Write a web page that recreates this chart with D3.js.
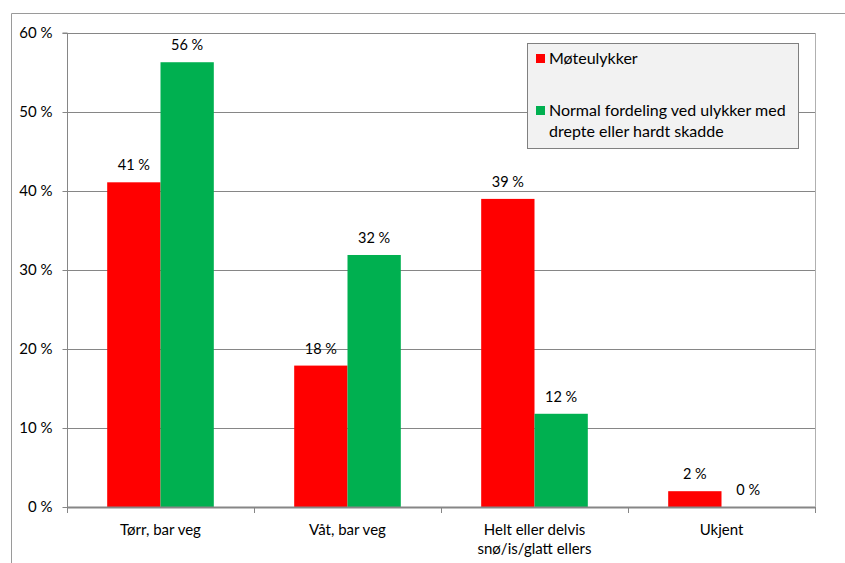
<!DOCTYPE html>
<html>
<head>
<meta charset="utf-8">
<script src="https://cdn.jsdelivr.net/npm/d3@7"></script>
<style>
  html, body { margin: 0; padding: 0; background: #fff; }
  svg { display: block; font-family: Lato, "Open Sans", sans-serif; }
</style>
</head>
<body>
<svg id="chart" width="845" height="563"></svg>
<script>
// Road surface conditions for head-on collisions vs. all serious accidents
const categories = ["Tørr, bar veg", "Våt, bar veg", "Helt eller delvis\nsnø/is/glatt ellers", "Ukjent"];
const seriesNames = ["Møteulykker", "Normal fordeling ved ulykker med\ndrepte eller hardt skadde"];
const moteulykker = [41.1, 17.9, 39.0, 2.0];
const normalFordeling = [56.3, 31.9, 11.8, 0.0];
const yTicks = [0, 10, 20, 30, 40, 50, 60];
const colors = ["#ff0000", "#00b050"];

const svg = d3.select("#chart");
const W = 845, H = 563;
const plot = { left: 67, top: 33, right: 815, bottom: 507 };

// outer chart frame (left and top edges visible)
svg.append("path")
  .attr("d", `M11.5,${H} V13.5 H${W}`)
  .attr("fill", "none").attr("stroke", "#9a9a9a").attr("stroke-width", 1);

const x = d3.scaleBand().domain(categories).range([plot.left, plot.right]).paddingInner(0).paddingOuter(0);
const y = d3.scaleLinear().domain([0, 60]).range([plot.bottom, plot.top]);
const inner = d3.scaleBand().domain([0, 1]).range([0, x.bandwidth()]).paddingInner(0).paddingOuter(0.754);

// gridlines
svg.append("g").selectAll("line").data(yTicks.filter(d => d > 0)).join("line")
  .attr("x1", plot.left).attr("x2", plot.right)
  .attr("y1", d => Math.round(y(d)) + 0.5).attr("y2", d => Math.round(y(d)) + 0.5)
  .attr("stroke", "#868686").attr("stroke-width", 1);

// right border of the plot area
svg.append("line")
  .attr("x1", plot.right + 0.5).attr("x2", plot.right + 0.5)
  .attr("y1", plot.top).attr("y2", plot.bottom + 6)
  .attr("stroke", "#b0b0b0");

// bars
const rows = categories.map((c, i) => [moteulykker[i], normalFordeling[i]].map((v, s) => ({ c, s, v })));
const groups = svg.append("g").selectAll("g").data(rows).join("g")
  .attr("transform", (d, i) => `translate(${x(categories[i])},0)`);
groups.selectAll("rect").data(d => d).join("rect")
  .attr("x", d => inner(d.s))
  .attr("width", inner.bandwidth())
  .attr("y", d => y(d.v))
  .attr("height", d => y(0) - y(d.v))
  .attr("fill", d => colors[d.s]);

// value labels
const fmt = v => `${Math.round(v)} %`;
groups.selectAll("text").data(d => d).join("text")
  .attr("x", d => inner(d.s) + inner.bandwidth() / 2)
  .attr("y", d => y(d.v) - 12)
  .attr("text-anchor", "middle")
  .attr("font-size", 14.5).attr("fill", "#000")
  .text(d => fmt(d.v));

// y axis
const yAxis = svg.append("g").attr("transform", `translate(${plot.left + 0.5},0)`)
  .call(d3.axisLeft(y).tickValues(yTicks).tickSize(5).tickPadding(10).tickFormat(d => `${d} %`));
yAxis.select(".domain").attr("stroke", "#868686").attr("d", `M-5,${plot.top}H0V${plot.bottom}`);
yAxis.selectAll(".tick line").attr("stroke", "#868686");
yAxis.selectAll(".tick text").attr("font-size", 15).attr("font-family", "Lato, sans-serif").attr("fill", "#000");

// x axis baseline and category ticks
const xTicks = categories.map(c => x(c)).concat([plot.right]);
svg.append("line")
  .attr("x1", plot.left).attr("x2", plot.right)
  .attr("y1", plot.bottom + 0.5).attr("y2", plot.bottom + 0.5)
  .attr("stroke", "#868686").attr("stroke-width", 2);
svg.append("g").selectAll("line").data(xTicks).join("line")
  .attr("x1", d => Math.round(d) + 0.5).attr("x2", d => Math.round(d) + 0.5)
  .attr("y1", plot.bottom).attr("y2", plot.bottom + 6)
  .attr("stroke", "#868686");

// category labels
svg.append("g").selectAll("text").data(categories).join("text")
  .attr("x", d => x(d) + x.bandwidth() / 2)
  .attr("y", 535)
  .attr("text-anchor", "middle")
  .attr("font-size", 15).attr("fill", "#000")
  .selectAll("tspan").data(d => d.split("\n")).join("tspan")
  .attr("x", function () { return d3.select(this.parentNode).attr("x"); })
  .attr("dy", (d, i) => i === 0 ? 0 : 18.5)
  .text(d => d);

// legend
const legend = svg.append("g").attr("transform", "translate(527.5,43.5)");
legend.append("rect").attr("width", 271).attr("height", 105)
  .attr("fill", "#f2f2f2").attr("stroke", "#808080");
const legendY = [20.5, 72.5];
seriesNames.forEach((name, i) => {
  legend.append("rect").attr("x", 8.5).attr("y", legendY[i] - 10).attr("width", 9).attr("height", 9)
    .attr("fill", colors[i]);
  const t = legend.append("text").attr("x", 21.5).attr("y", legendY[i])
    .attr("font-size", 16).attr("fill", "#000");
  t.selectAll("tspan").data(name.split("\n")).join("tspan")
    .attr("x", 21.5).attr("dy", (d, j) => j === 0 ? 0 : 21).text(d => d);
});
</script>
</body>
</html>
